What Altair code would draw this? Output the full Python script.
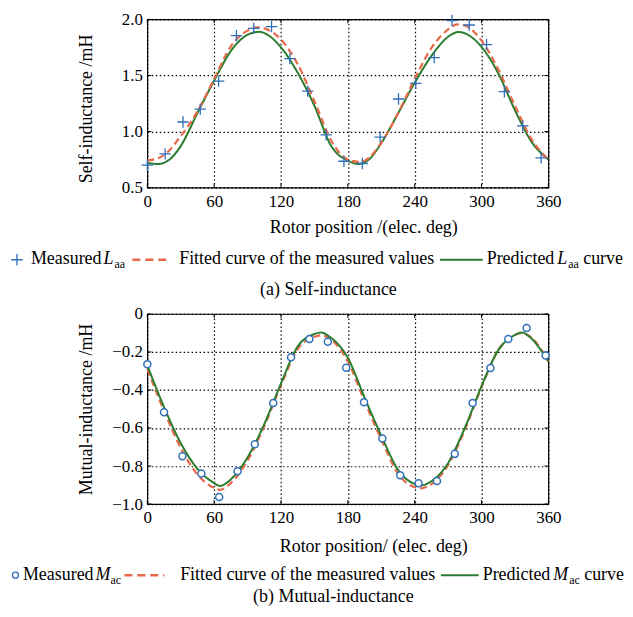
import altair as alt
import pandas as pd

# ---------------- data ----------------
x_ticks = [0, 60, 120, 180, 240, 300, 360]
top_y_ticks = [0.5, 1.0, 1.5, 2.0]
bot_y_ticks = [-1.0, -0.8, -0.6, -0.4, -0.2, 0.0]

# (a) self-inductance
meas_top_x = [0, 16, 32, 47.5, 64, 80, 95.5, 111.5, 128, 144, 160.5, 176.5,
              193, 209, 225.5, 241, 257.5, 273.5, 289, 304.5, 320.5, 337, 353.5]
meas_top_y = [0.70, 0.80, 1.085, 1.20, 1.45, 1.855, 1.92, 1.935, 1.65, 1.36, 0.97, 0.735,
              0.715, 0.95, 1.29, 1.43, 1.66, 1.99, 1.95, 1.775, 1.355, 1.05, 0.765]

fit_top_x = [0, 15, 30, 45, 60, 75, 90, 99, 105, 120, 135, 150, 165, 180, 190, 195,
             210, 225, 240, 255, 270, 278, 285, 300, 315, 330, 345, 360]
fit_top_y = [0.74, 0.79, 0.96, 1.18, 1.47, 1.76, 1.90, 1.93, 1.92, 1.82, 1.60, 1.27, 0.92,
             0.75, 0.73, 0.74, 0.90, 1.16, 1.47, 1.745, 1.91, 1.955, 1.945, 1.81, 1.555,
             1.23, 0.93, 0.75]

pred_top_x = [0, 10, 20, 30, 45, 60, 75, 90, 100, 110, 120, 135, 150, 165, 180, 189,
              200, 210, 225, 240, 255, 270, 279, 290, 300, 315, 330, 345, 360]
pred_top_y = [0.72, 0.71, 0.75, 0.87, 1.165, 1.455, 1.72, 1.865, 1.89, 1.85, 1.75, 1.525,
              1.23, 0.87, 0.74, 0.71, 0.76, 0.895, 1.16, 1.435, 1.675, 1.845, 1.887, 1.85,
              1.755, 1.52, 1.19, 0.905, 0.75]

# (b) mutual-inductance
meas_bot_x = [0, 15, 31.5, 48.5, 64.5, 81, 96.5, 113, 129, 145.5, 162, 178.5,
              194.5, 211, 227, 243.5, 260, 276, 292, 308, 324, 340.5, 357.5]
meas_bot_y = [-0.265, -0.517, -0.748, -0.839, -0.963, -0.827, -0.685, -0.468, -0.228,
              -0.132, -0.146, -0.283, -0.464, -0.655, -0.849, -0.891, -0.879, -0.736,
              -0.468, -0.284, -0.132, -0.074, -0.218]

curve_bot_x = [0, 15, 30, 45, 60, 65, 75, 90, 105, 120, 135, 150, 156, 165, 180, 195,
               210, 225, 240, 245, 255, 270, 285, 300, 315, 330, 336, 345, 360]
pred_bot_y = [-0.27, -0.49, -0.68, -0.815, -0.89, -0.905, -0.87, -0.755, -0.58, -0.365,
              -0.17, -0.105, -0.097, -0.125, -0.23, -0.44, -0.64, -0.82, -0.895, -0.903,
              -0.88, -0.785, -0.60, -0.38, -0.19, -0.11, -0.097, -0.13, -0.25]
fit_bot_y = [-0.29, -0.51, -0.705, -0.845, -0.915, -0.925, -0.89, -0.77, -0.59, -0.375,
             -0.185, -0.12, -0.112, -0.135, -0.25, -0.46, -0.66, -0.84, -0.912, -0.918,
             -0.895, -0.795, -0.61, -0.385, -0.19, -0.11, -0.10, -0.125, -0.25]

# texts
top_x_title = "Rotor position /(elec. deg)"
bot_x_title = "Rotor position/ (elec. deg)"
top_y_title = "Self-inductance /mH"
bot_y_title = "Mutual-inductance /mH"
legend_measured = "Measured"
legend_fitted = "Fitted curve of the measured values"
legend_predicted = "Predicted"
legend_curve = "curve"
top_symbol, top_sub = "L", "aa"
bot_symbol, bot_sub = "M", "ac"
top_caption = "(a) Self-inductance"
bot_caption = "(b) Mutual-inductance"

# ---------------- style ----------------
FONT = "Liberation Serif"
BLUE = "#2f6fba"
RED = "#e8694a"
GREEN = "#2b7d30"
W = 403
H_TOP = 169
H_BOT = 191
PLUS = "M -1 0 L 1 0 M 0 -1 L 0 1"


def one_row():
    return pd.DataFrame({"k": [0]})


def text(t, x, y, size=18, style="normal", align="left", font=FONT):
    return alt.Chart(one_row()).mark_text(
        text=t, font=font, fontSize=size, fontStyle=style, color="black",
        align=align, baseline="alphabetic"
    ).encode(x=alt.value(x), y=alt.value(y))


def seg(x1, x2, y, color, dash=None, width=2.2):
    kw = dict(color=color, strokeWidth=width)
    if dash:
        kw["strokeDash"] = dash
    return alt.Chart(one_row()).mark_rule(**kw).encode(
        x=alt.value(x1), x2=alt.value(x2), y=alt.value(y))


def enc_x(title, title_x, title_y):
    return alt.X("x:Q", scale=alt.Scale(domain=[0, 360], nice=False, zero=False),
                 axis=alt.Axis(values=x_ticks, title=title, grid=True, ticks=False,
                               domain=False, labelFlush=False, labelOverlap=False,
                               labelPadding=6, titleX=title_x, titleY=title_y,
                               titleBaseline="middle"))


def enc_y(domain, ticks, title, H, dy, expr):
    return alt.Y("y:Q", scale=alt.Scale(domain=domain, nice=False, zero=False),
                 axis=alt.Axis(values=ticks, title=title, grid=True, ticks=False,
                               domain=False, labelFlush=False, labelOverlap=False,
                               labelPadding=5, labelExpr=expr, titleX=-56,
                               titleY=H / 2 + dy, titleAngle=-90,
                               titleBaseline="alphabetic"))


def panel(H, ex, ey, yticks, curves, points_layer, legend, caption_layer):
    layers = []
    # inward tick marks on the frame
    tx = pd.DataFrame({"x": x_ticks})
    ty = pd.DataFrame({"y": yticks})
    layers.append(alt.Chart(tx).mark_rule(color="black", strokeWidth=1).encode(
        x=ex, y=alt.value(H - 4), y2=alt.value(H)))
    layers.append(alt.Chart(tx).mark_rule(color="black", strokeWidth=1).encode(
        x=ex, y=alt.value(0), y2=alt.value(4)))
    layers.append(alt.Chart(ty).mark_rule(color="black", strokeWidth=1).encode(
        y=ey, x=alt.value(0), x2=alt.value(4)))
    layers.append(alt.Chart(ty).mark_rule(color="black", strokeWidth=1).encode(
        y=ey, x=alt.value(W - 4), x2=alt.value(W)))
    for df, kw in curves:
        layers.append(alt.Chart(df).mark_line(interpolate="monotone", **kw).encode(x=ex, y=ey))
    layers.append(points_layer)
    layers.extend(legend)
    layers.extend(caption_layer)
    return alt.layer(*layers).properties(width=W, height=H)


# ---------------- top panel ----------------
ex_t = enc_x(top_x_title, 217, 40)
ey_t = enc_y([0.5, 2.0], top_y_ticks, top_y_title, H_TOP, 5, "format(datum.value, '.1f')")

df_fit_t = pd.DataFrame({"x": fit_top_x, "y": fit_top_y})
df_pred_t = pd.DataFrame({"x": pred_top_x, "y": pred_top_y})
df_meas_t = pd.DataFrame({"x": meas_top_x, "y": meas_top_y})

pts_t = alt.Chart(df_meas_t).mark_point(shape=PLUS, size=130, strokeWidth=1.3, color=BLUE,
                                         filled=False, opacity=1).encode(x=ex_t, y=ey_t)

LB = 246    # legend baseline (top)
LC = 241.5  # legend symbol center
legend_t = [
    alt.Chart(one_row()).mark_point(shape=PLUS, size=130, strokeWidth=1.3, color=BLUE,
                                    filled=False, opacity=1).encode(x=alt.value(-131), y=alt.value(LC)),
    text(legend_measured, -117, LB),
    text(top_symbol, -44, LB, style="italic"),
    text(top_sub, -33, LB + 4, size=12),
    seg(-15, 23, LC, RED, dash=[8, 5], width=2.5),
    text(legend_fitted, 32, LB),
    seg(294, 337, LC, GREEN, width=2),
    text(legend_predicted, 341, LB),
    text(top_symbol, 412, LB, style="italic"),
    text(top_sub, 423, LB + 4, size=12),
    text(legend_curve, 438, LB),
]
cap_t = [text(top_caption, 182, 276.5, size=18, align="center")]

top = panel(H_TOP, ex_t, ey_t, top_y_ticks,
            [(df_pred_t, dict(color=GREEN, strokeWidth=2)),
             (df_fit_t, dict(color=RED, strokeWidth=2.2, strokeDash=[7, 4]))],
            pts_t, legend_t, cap_t)

# ---------------- bottom panel ----------------
ex_b = enc_x(bot_x_title, 227, 43)
ey_b = enc_y([-1.0, 0.0], bot_y_ticks, bot_y_title, H_BOT, 0,
             "datum.value == 0 ? '0' : format(datum.value, '.1f')")

df_fit_b = pd.DataFrame({"x": curve_bot_x, "y": fit_bot_y})
df_pred_b = pd.DataFrame({"x": curve_bot_x, "y": pred_bot_y})
df_meas_b = pd.DataFrame({"x": meas_bot_x, "y": meas_bot_y})

pts_b = alt.Chart(df_meas_b).mark_point(shape="circle", size=50, strokeWidth=1.5, stroke=BLUE,
                                         fill="white", filled=True, opacity=1).encode(x=ex_b, y=ey_b)

LB2 = 267
LC2 = 262.5
legend_b = [
    alt.Chart(one_row()).mark_point(shape="circle", size=36, strokeWidth=1.3, stroke=BLUE,
                                    fill="white", filled=True, opacity=1).encode(x=alt.value(-132.5), y=alt.value(LC2)),
    text(legend_measured, -125, LB2),
    text(bot_symbol, -52, LB2, style="italic"),
    text(bot_sub, -37, LB2 + 4, size=12),
    seg(-23, 17, LC2, RED, dash=[8, 5], width=2.5),
    text(legend_fitted, 33, LB2),
    seg(295, 333, LC2, GREEN, width=2),
    text(legend_predicted, 337, LB2),
    text(bot_symbol, 408, LB2, style="italic"),
    text(bot_sub, 424, LB2 + 4, size=12),
    text(legend_curve, 439, LB2),
]
cap_b = [text(bot_caption, 187, 289, size=18, align="center")]

bot = panel(H_BOT, ex_b, ey_b, bot_y_ticks,
            [(df_fit_b, dict(color=RED, strokeWidth=2.2, strokeDash=[7, 4])),
             (df_pred_b, dict(color=GREEN, strokeWidth=2))],
            pts_b, legend_b, cap_b)

chart = alt.vconcat(top, bot, spacing=4).properties(
    padding=0, background="white"
).configure_axis(
    labelFont=FONT, labelFontSize=17, labelColor="black",
    titleFont=FONT, titleFontSize=18, titleFontWeight="normal", titleColor="black",
    gridColor="black", gridDash=[1.5, 2.5], gridWidth=1.2, gridOpacity=1,
).configure_view(stroke="black", strokeWidth=1.2)

chart.save("out.html", embed_options={"renderer": "svg", "actions": False})
